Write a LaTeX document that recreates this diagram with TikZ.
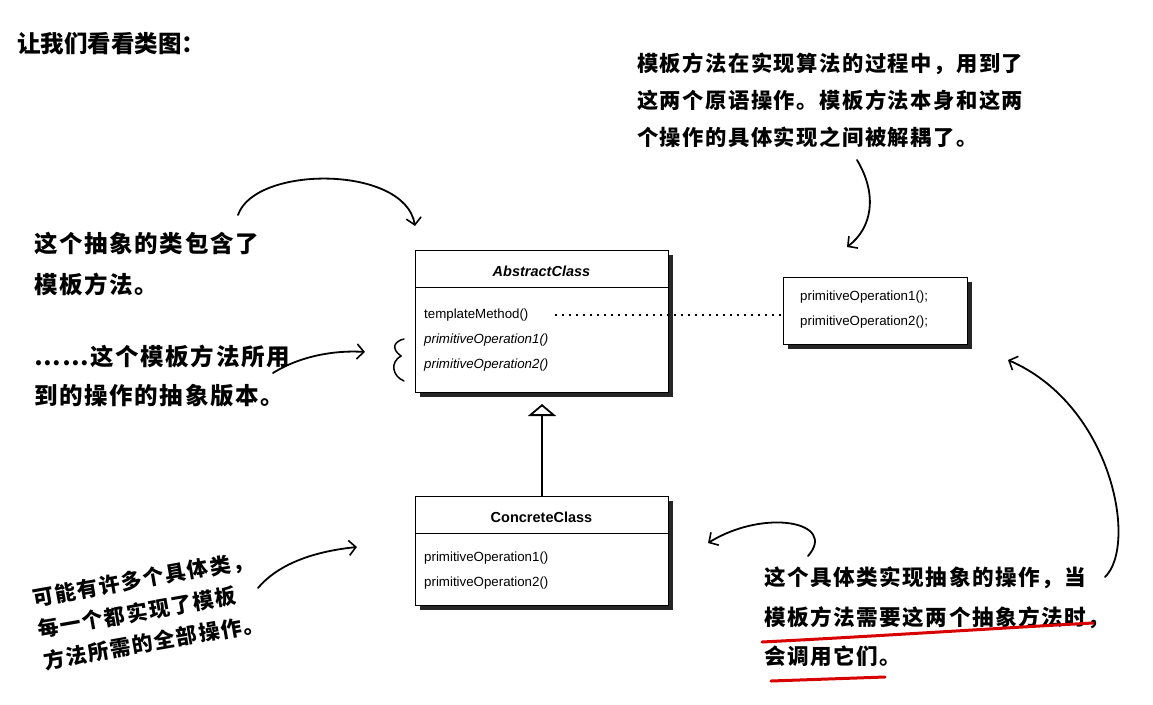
\documentclass[tikz,border=0pt]{standalone}
\usepackage{fontspec}
\setmainfont{Liberation Sans}
\newfontfamily\cjk{Noto Sans CJK SC}
\newfontfamily\hand[LetterSpace=7]{Noto Sans CJK SC}
\usetikzlibrary{arrows.meta,shadows}

\begin{document}
\begin{tikzpicture}[x=1pt,y=-1pt,
  umlbox/.style={draw, line width=1pt, fill=white, inner sep=0pt, anchor=north west,
    drop shadow={shadow xshift=4.5pt, shadow yshift=-4.5pt, fill=black!85, opacity=1}},
  classname/.style={inner sep=0pt, font=\fontsize{14.5}{16}\selectfont\bfseries},
  member/.style={anchor=west, inner sep=0pt, font=\fontsize{13.3}{15}\selectfont},
  note/.style={anchor=west, inner sep=0pt, align=left},
  handarrow/.style={line width=1.8pt, line cap=round,
    -{Straight Barb[length=7pt, width=15pt, line width=1.6pt]}},
  redline/.style={draw=red!85!black, line width=3pt, line cap=round},
]
\useasboundingbox[fill=white] (0,0) rectangle (1153,704);

% title
\node[anchor=west, inner sep=0pt, font=\cjk\bfseries\fontsize{23.5}{26}\selectfont] (title) at (17,44) {让我们看看类图：};

% ---- class boxes ----
\node[umlbox, minimum width=253pt, minimum height=142pt] (abs) at (415,250) {};
\draw[line width=1pt] (415,287) -- (668,287);
\node[classname, font=\fontsize{14.5}{16}\selectfont\bfseries\itshape] (absname) at (541.5,271) {AbstractClass};
\node[member] (tm) at (424,315) {templateMethod()};
\node[member, font=\fontsize{13.3}{15}\selectfont\itshape] (aop1) at (424,340) {primitiveOperation1()};
\node[member, font=\fontsize{13.3}{15}\selectfont\itshape] (aop2) at (424,365) {primitiveOperation2()};

\node[umlbox, minimum width=184pt, minimum height=67pt] (prim) at (783,277) {};
\node[member] (pop1) at (800,297) {primitiveOperation1();};
\node[member] (pop2) at (800,322) {primitiveOperation2();};

\node[umlbox, minimum width=253pt, minimum height=109pt] (conc) at (415,496) {};
\draw[line width=1pt] (415,533) -- (668,533);
\node[classname] (concname) at (541.5,517) {ConcreteClass};
\node[member] (cop1) at (424,558) {primitiveOperation1()};
\node[member] (cop2) at (424,583) {primitiveOperation2()};

% inheritance
\draw[line width=1.5pt, shorten >=11pt, -{Triangle[open, length=12pt, width=28pt, line width=1.8pt]}]
  (conc.north) -- (abs.south);

% dotted link from templateMethod to the operation box
\coordinate (dotstart) at ([xshift=26pt]tm.east);
\draw[line width=2.2pt, dash pattern=on 2.2pt off 4.8pt] (dotstart) -- (dotstart -| prim.west);

% brace over the abstract operations
\draw[line width=1.5pt, line cap=round] (404,339) .. controls (395,341) and (390,348) .. (401,356)
  .. controls (390,362) and (392,376) .. (404,381);

% ---- annotations ----
\node[note, font=\hand\bfseries\fontsize{23.5}{41}\selectfont] (n1) at (34,264.5) {这个抽象的类包含了\\模板方法。};
\node[note, font=\hand\bfseries\fontsize{23.5}{39}\selectfont] (n2) at (34,376.5) {……这个模板方法所用\\到的操作的抽象版本。};
\node[note, font=\hand\bfseries\fontsize{21.3}{37}\selectfont] (n3) at (637,100) {模板方法在实现算法的过程中，用到了\\这两个原语操作。模板方法本身和这两\\个操作的具体实现之间被解耦了。};
\node[note, font=\hand\bfseries\fontsize{21.6}{39.5}\selectfont] (n4) at (764,617) {这个具体类实现抽象的操作，当\\模板方法需要这两个抽象方法时，\\会调用它们。};
\node[note, rotate=10, font=\hand\bfseries\fontsize{21}{32}\selectfont] (n5) at (38,630) {可能有许多个具体类，\\每一个都实现了模板\\方法所需的全部操作。};

% ---- hand-drawn arrows ----
\coordinate (a1s) at (238,215);
\coordinate (a1e) at (415,226);
\draw[handarrow] (a1s) .. controls (255,165) and (405,165) .. (a1e);

\coordinate (a2s) at (273,373);
\coordinate (a2e) at (365,352);
\draw[handarrow] (a2s) .. controls (300,356) and (335,350) .. (a2e);

\coordinate (a3s) at (857,160);
\coordinate (a3e) at (847,247);
\draw[handarrow] (a3s) .. controls (878,195) and (872,228) .. (a3e);

\coordinate (a4s) at (808,556);
\coordinate (a4e) at (708,543);
\draw[handarrow] (a4s) .. controls (838,522) and (765,508) .. (a4e);

\coordinate (a5s) at (1105,577);
\coordinate (a5e) at (1008,360);
\draw[handarrow] (a5s) .. controls (1138,545) and (1112,405) .. (a5e);

\coordinate (a6s) at (258,588);
\coordinate (a6e) at (357,547);
\draw[handarrow] (a6s) .. controls (280,562) and (318,551) .. (a6e);

% red underlines
\coordinate (u1s) at (762,642);
\coordinate (u1e) at (1093,623);
\draw[redline] (u1s) .. controls (880,636) and (1000,628) .. (u1e);
\coordinate (u2s) at (771,681);
\coordinate (u2e) at (885,677);
\draw[redline] (u2s) -- (u2e);
\end{tikzpicture}
\end{document}
